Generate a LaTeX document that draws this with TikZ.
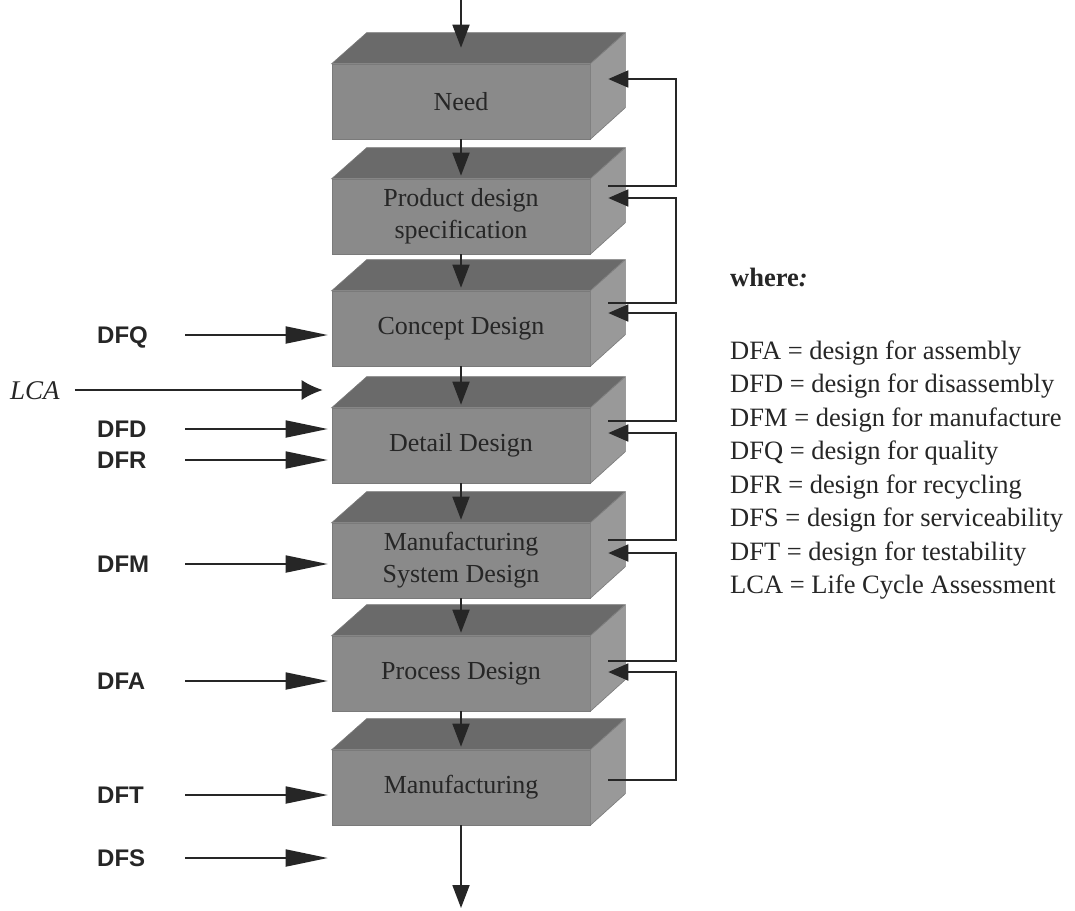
\documentclass[tikz,border=0pt]{standalone}
\usepackage{fontspec}
\setmainfont{Liberation Serif}
\newfontfamily\labelfont{Liberation Sans}
\usetikzlibrary{arrows.meta,calc}

\definecolor{boxfront}{HTML}{8A8A8A}
\definecolor{boxtop}{HTML}{6A6A6A}
\definecolor{boxside}{HTML}{999999}
\definecolor{boxedge}{HTML}{7A7A7A}
\definecolor{ink}{HTML}{262626}

% top and right faces of a stage block, built on its front-face node
\newcommand\blockfaces[1]{%
  \filldraw[fill=boxtop,draw=boxedge,line width=0.6pt]
    (#1.north west) -- ++(35,-31) -- ++(258,0) -- (#1.north east) -- cycle;
  \filldraw[fill=boxside,draw=boxedge,line width=0.6pt]
    (#1.north east) -- ++(35,-31) -- ++(0,75) -- (#1.south east) -- cycle;
}

\begin{document}
\begin{tikzpicture}[x=1pt,y=-1pt,
  stage/.style={rectangle, fill=boxfront, draw=boxedge, line width=0.6pt,
    minimum width=258pt, minimum height=75pt, inner sep=0pt, align=center,
    font=\fontsize{26}{32}\selectfont, text=ink},
  flow/.style={draw=ink, line width=1.8pt, -{Triangle[length=23pt,width=17pt]}},
  back/.style={draw=ink, line width=1.8pt, -{Triangle[length=20pt,width=17pt]}},
  feed/.style={draw=ink, line width=1.8pt, shorten >=4pt,
    -{Triangle[length=42pt,width=17pt]}},
  lcafeed/.style={draw=ink, line width=1.8pt, shorten >=9pt,
    -{Latex[length=21pt,width=20pt]}},
  tag/.style={anchor=west, inner sep=0pt,
    font=\labelfont\bfseries\fontsize{24}{24}\selectfont,
    text height=17pt, text depth=0pt, text=ink},
  key/.style={anchor=west, inner sep=0pt, font=\fontsize{26.5}{26.5}\selectfont,
    text height=18pt, text depth=0pt, text=ink}
]
\useasboundingbox (0,0) rectangle (1075,910);
\fill[white] (0,0) rectangle (1075,910);

% stage blocks (front faces)
\node[stage] (need)    at (461,101.5) {Need};
\node[stage] (pds)     at (461,216.5) {Product design\\specification};
\node[stage] (concept) at (461,328.5) {Concept Design};
\node[stage] (detail)  at (461,445.5) {Detail Design};
\node[stage] (msd)     at (461,560.5) {Manufacturing\\System Design};
\node[stage] (proc)    at (461,673.5) {Process Design};
\node[stage] (mfg)     at (461,787.5) {Manufacturing};
\foreach \b in {need,pds,concept,detail,msd,proc,mfg} {\blockfaces{\b}}

% main flow down the stack
\coordinate (entry) at (461,0);
\coordinate (exit) at (461,908);
\draw[flow] (entry) -- ([yshift=16pt]need.north);
\draw[flow] (need.south) -- ([yshift=3pt]pds.north);
\draw[flow] (pds.south) -- ([yshift=3pt]concept.north);
\draw[flow] (concept.south) -- ([yshift=3pt]detail.north);
\draw[flow] (detail.south) -- ([yshift=3pt]msd.north);
\draw[flow] (msd.south) -- ([yshift=3pt]proc.north);
\draw[flow] (proc.south) -- ([yshift=3pt]mfg.north);
\draw[flow] (mfg.south) -- (exit);

% feedback loops on the right
\draw[back] ([xshift=18pt,yshift=30.5pt]pds.east) -- ++(68,0)
  |- ([xshift=18pt,yshift=22.5pt]need.east);
\draw[back] ([xshift=18pt,yshift=25.5pt]concept.east) -- ++(68,0)
  |- ([xshift=18pt,yshift=18.5pt]pds.east);
\draw[back] ([xshift=18pt,yshift=24.5pt]detail.east) -- ++(68,0)
  |- ([xshift=18pt,yshift=15.5pt]concept.east);
\draw[back] ([xshift=18pt,yshift=20.5pt]msd.east) -- ++(68,0)
  |- ([xshift=18pt,yshift=12.5pt]detail.east);
\draw[back] ([xshift=18pt,yshift=12.5pt]proc.east) -- ++(68,0)
  |- ([xshift=18pt,yshift=7.5pt]msd.east);
\draw[back] ([xshift=18pt,yshift=7.5pt]mfg.east) -- ++(68,0)
  |- ([xshift=18pt,yshift=1.5pt]proc.east);

% design-for inputs on the left
\coordinate (feedx) at (185,0);
\node[tag] (dfq) at (97,335) {DFQ};
\node[key, font=\itshape\fontsize{27}{27}\selectfont] (lca) at (10,390) {LCA};
\node[tag] (dfd) at (97,429) {DFD};
\node[tag] (dfr) at (97,460) {DFR};
\node[tag] (dfm) at (97,564) {DFM};
\node[tag] (dfa) at (97,681) {DFA};
\node[tag] (dft) at (97,795) {DFT};
\node[tag] (dfs) at (97,858) {DFS};

\draw[feed] (dfq.east -| feedx) -- (dfq.east -| concept.west);
\draw[lcafeed] ([xshift=15pt]lca.east) -- (lca.east -| concept.west);
\draw[feed] (dfd.east -| feedx) -- (dfd.east -| detail.west);
\draw[feed] (dfr.east -| feedx) -- (dfr.east -| detail.west);
\draw[feed] (dfm.east -| feedx) -- (dfm.east -| msd.west);
\draw[feed] (dfa.east -| feedx) -- (dfa.east -| proc.west);
\draw[feed] (dft.east -| feedx) -- (dft.east -| mfg.west);
\draw[feed] (dfs.east -| feedx) -- (dfs.east -| mfg.west);

% key
\node[key, font=\bfseries\fontsize{26.5}{26.5}\selectfont] (where) at (730,277) {where\textit{:}};
\node[key] (k1) at (730,350)   {DFA = design for assembly};
\node[key] (k2) at (730,383.5) {DFD = design for disassembly};
\node[key] (k3) at (730,417)   {DFM = design for manufacture};
\node[key] (k4) at (730,450.5) {DFQ = design for quality};
\node[key] (k5) at (730,484)   {DFR = design for recycling};
\node[key] (k6) at (730,517.5) {DFS = design for serviceability};
\node[key] (k7) at (730,551)   {DFT = design for testability};
\node[key] (k8) at (730,584.5) {LCA = Life Cycle Assessment};
\end{tikzpicture}
\end{document}
